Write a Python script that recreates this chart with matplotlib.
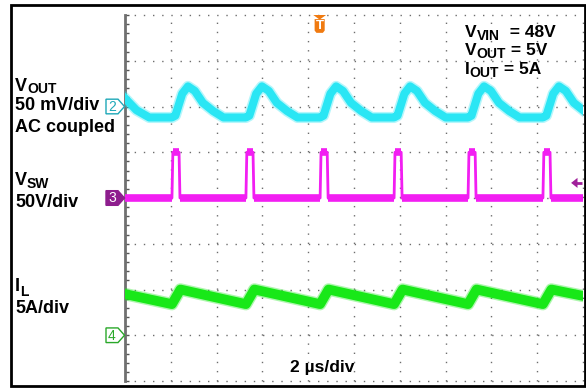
import matplotlib
matplotlib.use("Agg")
import matplotlib.pyplot as plt
import numpy as np
from matplotlib.patches import Polygon, Rectangle

plt.rcParams["font.family"] = ["Liberation Sans", "DejaVu Sans"]

# ---------------- data (time in microseconds) ----------------
# Output voltage ripple, AC coupled (mV)
VOUT_T = [0.00, 0.50, 1.06,
          2.05, 2.20, 2.50, 2.75, 3.05, 3.40, 3.85, 4.30,
          5.28, 5.43, 5.73, 5.98, 6.28, 6.63, 7.08, 7.53,
          8.52, 8.67, 8.97, 9.22, 9.52, 9.87, 10.32, 10.77,
          11.75, 11.90, 12.20, 12.45, 12.75, 13.10, 13.55, 14.00,
          14.98, 15.13, 15.43, 15.68, 15.98, 16.33, 16.78, 17.23,
          18.25, 18.40, 18.70, 18.95, 19.25, 19.60, 20.00]
VOUT_MV = [9, -4, -12,
           -12, -10, 14, 22, 17, 4, -5, -12,
           -12, -10, 14, 22, 17, 4, -5, -12,
           -12, -10, 14, 22, 17, 4, -5, -12,
           -12, -10, 14, 22, 17, 4, -5, -12,
           -12, -10, 14, 22, 17, 4, -5, -12,
           -12, -10, 14, 22, 17, 4, -4]

# Switch node: rise / fall times of each pulse (us) and pulse height (V)
VSW_RISE = [2.05, 5.28, 8.52, 11.75, 14.98, 18.25]
VSW_FALL = [2.40, 5.63, 8.87, 12.10, 15.33, 18.60]
VSW_HIGH = 50.0

# Inductor current (A)
IL_T = [0.00, 2.05, 2.42, 5.28, 5.65, 8.52, 8.89, 11.75, 12.12,
        14.98, 15.35, 18.25, 18.62, 20.00]
IL_A = [4.5, 3.4, 5.0, 3.4, 5.0, 3.4, 5.0, 3.4, 5.0,
        3.4, 5.0, 3.4, 5.0, 4.3]

# channel scales (per division) and ground-marker positions (divisions)
VOUT_SCALE, VOUT_POS = 50.0, 6.0
VSW_SCALE, VSW_POS = 50.0, 4.0
IL_SCALE, IL_POS = 5.0, 1.0
TRIG_T = 8.5
TRIG_LEVEL_DIV = 4.33

C_CYAN = "#2ae6f4"
C_MAG = "#f21ef2"
C_GREEN = "#18e818"

W, H = 586, 388
fig = plt.figure(figsize=(W / 100, H / 100), dpi=100)
fig.patch.set_facecolor("white")

# outer frame
fig.patches.append(Rectangle((11 / W, 1 - 386 / H), (585 - 11) / W, (386 - 5) / H,
                             transform=fig.transFigure, fill=False,
                             edgecolor="black", linewidth=2.0))

L, R, T, B = 125, 583, 15, 381
ax = fig.add_axes([L / W, 1 - B / H, (R - L) / W, (B - T) / H])
ax.set_xlim(0, 20)
ax.set_ylim(0, 8)
ax.set_facecolor("white")
for s in ["top", "right", "bottom"]:
    ax.spines[s].set_visible(False)
ax.spines["left"].set_color("#707070")
ax.spines["left"].set_linewidth(2.0)
ax.set_xticks([])
ax.set_yticks(np.arange(0, 8.01, 0.2), minor=True)
ax.set_yticks([])
ax.tick_params(axis="y", which="minor", direction="in", length=3,
               width=1, color="#555555", labelleft=False)

# dotted graticule
gk = dict(color="#6e6e6e", lw=1.0, ls=(0, (1, 5.6)), zorder=1, clip_on=False)
for i in range(1, 11):
    ax.axvline(i * 2, **gk)
for j in range(0, 9):
    ax.axhline(j, **gk)

# traces
vout_div = VOUT_POS + np.array(VOUT_MV) / VOUT_SCALE
ax.plot(VOUT_T, vout_div, color=C_CYAN, lw=8, alpha=0.35, zorder=3,
        solid_joinstyle="round")
ax.plot(VOUT_T, vout_div, color=C_CYAN, lw=5.8, zorder=4, solid_joinstyle="round")

# switch node
vt, vv = [0.0], [0.0]
for r, f in zip(VSW_RISE, VSW_FALL):
    vt += [r, r + 0.04, f - 0.04, f]
    vv += [0.0, VSW_HIGH, VSW_HIGH, 0.0]
vt.append(20.0)
vv.append(0.0)
vt = np.array(vt)
vsw_div = VSW_POS + np.array(vv) / VSW_SCALE
ax.plot(vt, vsw_div, color=C_MAG, lw=2.0, zorder=4)
for k in range(len(vt) - 1):
    if vsw_div[k] == vsw_div[k + 1]:
        ax.plot(vt[k:k + 2], vsw_div[k:k + 2], color=C_MAG, lw=5.5,
                zorder=4, solid_capstyle="butt")

# inductor current
il_div = IL_POS + np.array(IL_A) / IL_SCALE
ax.plot(IL_T, il_div, color=C_GREEN, lw=9, alpha=0.35, zorder=3)
ax.plot(IL_T, il_div, color=C_GREEN, lw=7, zorder=4)

# channel markers (left of the graticule)
ytr = ax.get_yaxis_transform()


def fx(px):
    return (px - L) / (R - L)


def marker(ypos, label, face, edge, txtc):
    h = 0.16
    pts = [(fx(106), ypos - h), (fx(118), ypos - h), (fx(124.5), ypos),
           (fx(118), ypos + h), (fx(106), ypos + h)]
    ax.add_patch(Polygon(pts, closed=True, transform=ytr, facecolor=face,
                         edgecolor=edge, lw=1.0, clip_on=False, zorder=6))
    ax.text(fx(112), ypos - 0.01, label, transform=ytr, ha="center", va="center",
            fontsize=10, color=txtc, clip_on=False, zorder=7)


marker(VOUT_POS, "2", "white", "#1ea8b8", "#1ea8b8")
marker(VSW_POS, "3", "#8e1e8e", "#8e1e8e", "white")
marker(IL_POS, "4", "white", "#2aa82a", "#2aa82a")

# trigger position marker (orange T): small triangle + rounded body
ORANGE = "#f07a10"
ax.add_patch(Polygon([(TRIG_T - 0.28, 8.0), (TRIG_T + 0.28, 8.0), (TRIG_T, 7.9)],
                     closed=True, facecolor=ORANGE, edgecolor="none", zorder=6,
                     clip_on=False))
bw, btop, bbot = 0.22, 7.91, 7.61
ax.add_patch(Polygon([(TRIG_T - bw, btop), (TRIG_T + bw, btop),
                      (TRIG_T + bw, bbot + 0.05), (TRIG_T + bw - 0.08, bbot),
                      (TRIG_T - bw + 0.08, bbot), (TRIG_T - bw, bbot + 0.05)],
                     closed=True, facecolor=ORANGE, edgecolor="none", zorder=6))
ax.text(TRIG_T, 7.755, "T", ha="center", va="center", fontsize=9.5,
        color="white", fontweight="bold", zorder=7)

# trigger level marker on the right
ax.add_patch(Polygon([(19.48, TRIG_LEVEL_DIV), (19.76, TRIG_LEVEL_DIV + 0.11),
                      (19.76, TRIG_LEVEL_DIV - 0.11)], closed=True,
                     facecolor="#a0209a", edgecolor="none", zorder=6))
ax.plot([19.7, 19.95], [TRIG_LEVEL_DIV, TRIG_LEVEL_DIV], color="#a0209a",
        lw=2.0, zorder=6, solid_capstyle="butt")

renderer = fig.canvas.get_renderer()


# text labels (pixel positions, baseline)
def ftxt(x, y, s, size=13):
    return fig.text(x / W, 1 - y / H, s, fontsize=size, fontweight="bold",
                    ha="left", va="baseline", color="black")


def subtxt(x, y, main, sub, rest="", size=13, subsize=10, drop=3):
    t = ftxt(x, y, main, size)
    w = t.get_window_extent(renderer).width
    t2 = ftxt(x + w, y + drop, sub, subsize)
    if rest:
        w2 = t2.get_window_extent(renderer).width
        ftxt(x + w + w2, y, rest, size)


subtxt(15, 91, "V", "OUT", size=13, subsize=10, drop=2)
ftxt(15, 110, "50 mV/div")
ftxt(15, 132, "AC coupled")
subtxt(15, 185, "V", "SW", size=13, subsize=10, drop=3)
ftxt(15, 207, "50V/div")
subtxt(15, 291, "I", "L", size=13, subsize=10, drop=5)
ftxt(15, 313, "5A/div")

subtxt(465, 37, "V", "VIN", "  = 48V", size=12.5, subsize=10, drop=3)
subtxt(465, 55, "V", "OUT", " = 5V", size=12.5, subsize=10, drop=3)
subtxt(465, 74, "I", "OUT", " = 5A", size=12.5, subsize=10, drop=3)

ftxt(290, 372, "2 µs/div", 12.5)

fig.savefig("out.png", dpi=100, facecolor="white")
